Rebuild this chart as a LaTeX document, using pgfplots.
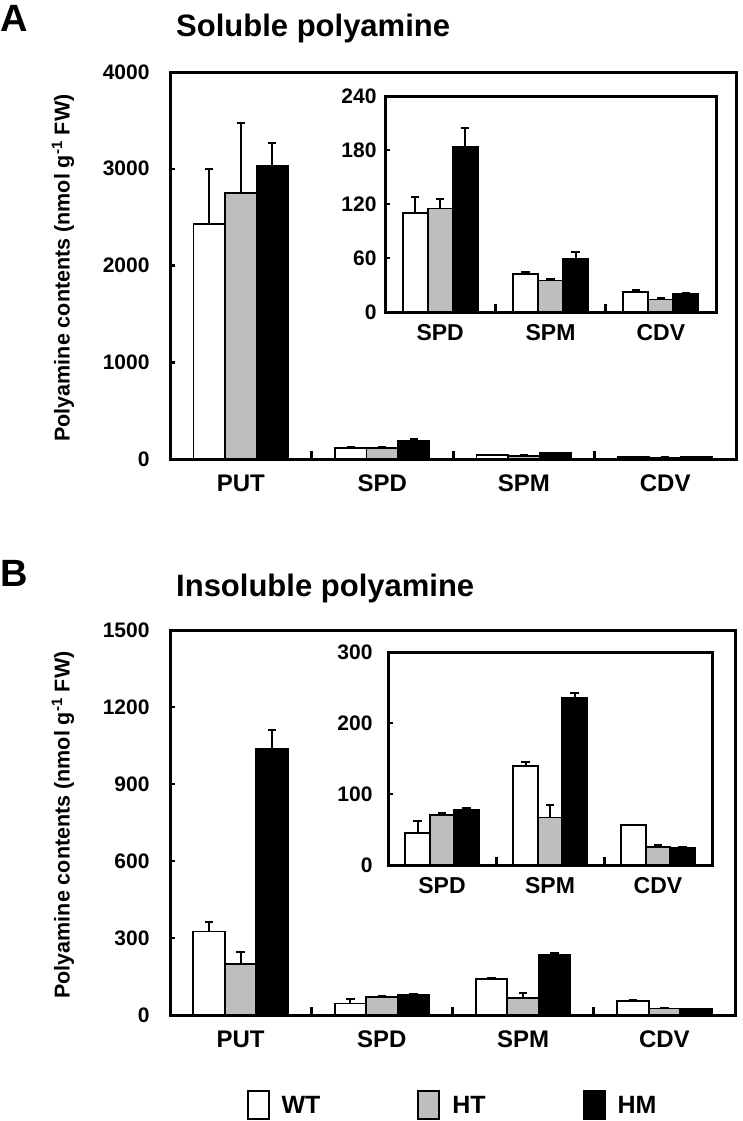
\documentclass[border=0pt]{standalone}
\usepackage{fontspec}
\setmainfont{Liberation Sans}
\usepackage{pgfplots}
\pgfplotsset{compat=1.18}
\newcommand\fs[1]{\fontsize{#1}{#1}\selectfont\bfseries}
\definecolor{htgray}{RGB}{190,190,190}
\pgfplotsset{
  panel/.style={
    scale only axis,
    axis line style={line width=3pt},
    ybar=0pt,
    ymin=0,
    tick align=inside,
    xtick pos=bottom, ytick pos=left,
    major x tick style={draw=none},
    minor x tick style={line width=3pt, black},
    minor tick length=8pt,
    major tick length=5pt,
    ytick style={line width=2.5pt, black},
    /pgf/number format/assume math mode=true,
    /pgf/number format/1000 sep={},
    yticklabel style={font=\fs{21}},
    xticklabel style={font=\fs{24}, yshift=-12pt},
    axis background/.style={fill=white},
    enlargelimits=false,
  },
  eb/.style={
    /pgfplots/error bars/y dir=plus,
    /pgfplots/error bars/y explicit,
    /pgfplots/error bars/error bar style={line width=2pt, black},
    /pgfplots/error bars/error mark options={rotate=90, line width=2pt, mark size=4.2pt, black, solid},
  },
  wt/.style={draw=black, fill=white, line width=1.8pt, eb},
  ht/.style={draw=black, fill=htgray, line width=1.8pt, eb},
  hm/.style={draw=black, fill=black, line width=1.8pt, eb},
}
\begin{document}
\begin{tikzpicture}
\path[use as bounding box] (0pt,0pt) rectangle (742pt,-1121pt);
% ---------------- Panel A ----------------
\node[anchor=base west, font=\fs{38}, inner sep=0pt] at (0pt,-32pt) {A};
\node[anchor=base west, font=\fs{31}, inner sep=0pt] at (176pt,-37pt) {Soluble polyamine};
\node[rotate=90, font=\fs{21.5}] at (63pt,-268pt) {Polyamine contents (nmol g\textsuperscript{-1} FW)};
\begin{axis}[panel, at={(170pt,-459pt)}, anchor=south west,
  width=566pt, height=387pt, bar width=31.5pt,
  xmin=-0.5, xmax=3.5, ymax=4000, ytick={0,1000,2000,3000,4000},
  xtick={0,1,2,3}, xticklabels={PUT,SPD,SPM,CDV}, minor xtick={0.5,1.5,2.5},
  yticklabel style={xshift=-17pt}]
\addplot[wt] coordinates {(0,2430) +- (0,565) (1,110) +- (0,18) (2,42) +- (0,2) (3,22) +- (0,2)};
\addplot[ht] coordinates {(0,2750) +- (0,725) (1,115) +- (0,11) (2,35) +- (0,2) (3,14) +- (0,2)};
\addplot[hm] coordinates {(0,3030) +- (0,235) (1,184) +- (0,20) (2,59) +- (0,8) (3,20) +- (0,1)};
\end{axis}
\begin{axis}[panel, at={(385pt,-312pt)}, anchor=south west,
  width=331pt, height=216pt, bar width=25pt,
  xmin=-0.5, xmax=2.5, ymax=240, ytick={0,60,120,180,240},
  xtick={0,1,2}, xticklabels={SPD,SPM,CDV}, minor xtick={0.5,1.5},
  xticklabel style={font=\fs{23}, yshift=3pt}, yticklabel style={xshift=-5pt}]
\addplot[wt] coordinates {(0,110) +- (0,18) (1,42) +- (0,2) (2,22) +- (0,2)};
\addplot[ht] coordinates {(0,115) +- (0,11) (1,35) +- (0,2) (2,14) +- (0,2)};
\addplot[hm] coordinates {(0,184) +- (0,20) (1,59) +- (0,8) (2,20) +- (0,1)};
\end{axis}
% ---------------- Panel B ----------------
\node[anchor=base west, font=\fs{38}, inner sep=0pt] at (0pt,-586pt) {B};
\node[anchor=base west, font=\fs{31}, inner sep=0pt] at (176pt,-596pt) {Insoluble polyamine};
\node[rotate=90, font=\fs{21.5}] at (63pt,-825pt) {Polyamine contents (nmol g\textsuperscript{-1} FW)};
\begin{axis}[panel, at={(170pt,-1015pt)}, anchor=south west,
  width=565pt, height=385pt, bar width=31.5pt,
  xmin=-0.5, xmax=3.5, ymax=1500, ytick={0,300,600,900,1200,1500},
  xtick={0,1,2,3}, xticklabels={PUT,SPD,SPM,CDV}, minor xtick={0.5,1.5,2.5},
  yticklabel style={xshift=-17pt},
  legend columns=3,
  legend image code/.code={\draw[#1, line width=2pt] (0pt,-14pt) rectangle (21pt,14pt); \path (31pt,0pt);},
  legend style={at={(0.5,-0.195)}, anchor=north, draw=none, fill=none, font=\fs{25},
    inner sep=0pt, cells={anchor=west},
    /tikz/every even column/.append style={column sep=95pt}}]
\addplot[wt] coordinates {(0,325) +- (0,37) (1,45) +- (0,17) (2,140) +- (0,5) (3,56) +- (0,1)};
\addplot[ht] coordinates {(0,200) +- (0,45) (1,70) +- (0,3) (2,67) +- (0,17) (3,25) +- (0,3)};
\addplot[hm] coordinates {(0,1035) +- (0,75) (1,78) +- (0,2) (2,235) +- (0,7) (3,24) +- (0,1)};
\legend{WT,HT,HM}
\end{axis}
\begin{axis}[panel, at={(388pt,-865pt)}, anchor=south west,
  width=324pt, height=213pt, bar width=24.5pt,
  xmin=-0.5, xmax=2.5, ymax=300, ytick={0,100,200,300},
  xtick={0,1,2}, xticklabels={SPD,SPM,CDV}, minor xtick={0.5,1.5},
  xticklabel style={font=\fs{23}, yshift=3pt}, yticklabel style={xshift=-12pt}]
\addplot[wt] coordinates {(0,45) +- (0,17) (1,140) +- (0,5) (2,56) +- (0,1)};
\addplot[ht] coordinates {(0,70) +- (0,3) (1,67) +- (0,17) (2,25) +- (0,3)};
\addplot[hm] coordinates {(0,78) +- (0,2) (1,235) +- (0,7) (2,24) +- (0,1)};
\end{axis}
\end{tikzpicture}
\end{document}
